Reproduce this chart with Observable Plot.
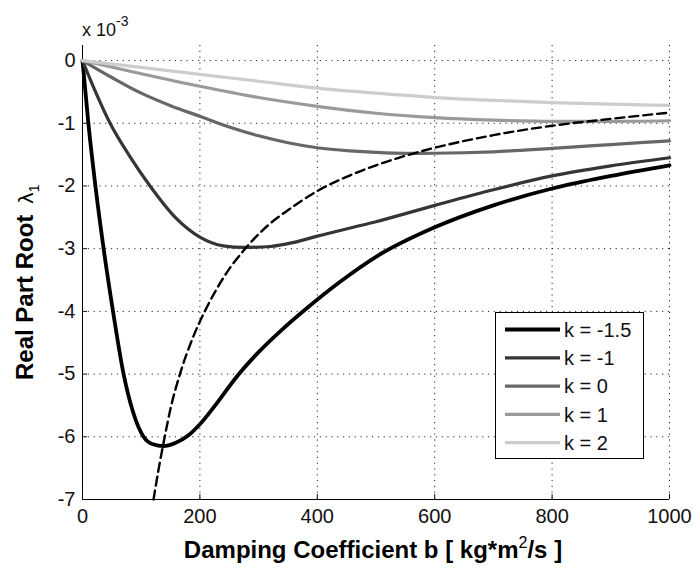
<!DOCTYPE html>
<html><head><meta charset="utf-8">
<script src="https://cdn.jsdelivr.net/npm/d3@7"></script>
<script src="https://cdn.jsdelivr.net/npm/@observablehq/plot@0.6"></script>
<style>body{margin:0;background:#fff} #chart{width:694px;height:570px}</style>
</head><body><div id="chart"></div>
<script>
// ---- data (values ×10^-3) ----
const kLabels = ["k = -1.5", "k = -1", "k = 0", "k = 1", "k = 2"];
const bKm15 = [0, 10, 22, 36, 52, 70, 86, 104, 120, 138, 158, 180, 200, 230, 262, 300, 340, 377, 440, 500, 600, 700, 800, 900, 1000];
const lamKm15 = [0, -1, -2, -3, -4, -5, -5.6, -6.0, -6.12, -6.15, -6.1, -5.98, -5.8, -5.45, -5.05, -4.65, -4.29, -3.99, -3.52, -3.13, -2.66, -2.31, -2.04, -1.84, -1.67];
const bKm1 = [0, 20, 47, 80, 115, 158, 200, 240, 275, 320, 360, 400, 456, 500, 600, 700, 800, 900, 1000];
const lamKm1 = [0, -0.45, -1, -1.52, -2, -2.5, -2.815, -2.955, -2.98, -2.965, -2.9, -2.8, -2.67, -2.57, -2.31, -2.06, -1.84, -1.68, -1.55];
const bK0 = [0, 50, 100, 150, 200, 250, 300, 350, 400, 456, 500, 550, 600, 650, 700, 800, 900, 1000];
const lamK0 = [0, -0.27, -0.52, -0.72, -0.89, -1.06, -1.2, -1.31, -1.39, -1.44, -1.465, -1.48, -1.478, -1.47, -1.455, -1.4, -1.34, -1.28];
const bK1 = [0, 100, 200, 300, 400, 500, 600, 700, 800, 900, 1000];
const lamK1 = [0, -0.21, -0.41, -0.59, -0.73, -0.84, -0.91, -0.95, -0.97, -0.97, -0.96];
const bK2 = [0, 100, 200, 300, 400, 500, 600, 700, 800, 900, 1000];
const lamK2 = [0, -0.11, -0.22, -0.33, -0.44, -0.52, -0.59, -0.635, -0.67, -0.695, -0.715];
const bLocus = [121, 130, 138, 150, 166, 188, 211, 241, 280, 317, 351, 400, 456, 500, 576, 700, 800, 900, 1000];
const lamLocus = [-7.0, -6.5, -6.1, -5.55, -5.0, -4.42, -3.95, -3.45, -2.97, -2.62, -2.38, -2.08, -1.83, -1.67, -1.45, -1.19, -1.04, -0.93, -0.83];
const xTicks = [0, 200, 400, 600, 800, 1000];
const yTicks = [0, -1, -2, -3, -4, -5, -6, -7];

const seriesB = [bKm15, bKm1, bK0, bK1, bK2];
const seriesL = [lamKm15, lamKm1, lamK0, lamK1, lamK2];
const rows = kLabels.map((k, i) => seriesB[i].map((b, j) => ({k, b, v: seriesL[i][j]})));
const locus = bLocus.map((b, j) => ({b, v: lamLocus[j]}));

const grays = ["#000000", "#353535", "#676767", "#9a9a9a", "#cdcdcd"];
const widths = [3.8, 3.2, 3.2, 3.2, 3.2];
const font = "'Liberation Sans', Arial, Helvetica, sans-serif";
const gridStyle = {stroke: "#000", strokeOpacity: 0.85, strokeDasharray: "1.2,4.6", strokeWidth: 1};

const plot = Plot.plot({
  width: 694, height: 570,
  marginLeft: 82, marginRight: 25, marginTop: 45, marginBottom: 71,
  style: {fontFamily: font, fontSize: "20px", color: "#111", background: "#fff", overflow: "visible"},
  x: {domain: [0, 1000], label: null},
  y: {domain: [-7, 0.24], label: null},
  color: {domain: kLabels, range: grays},
  marks: [
    Plot.gridX(xTicks, gridStyle),
    Plot.gridY(yTicks, gridStyle),
    Plot.ruleX([0], {stroke: "#000"}),
    Plot.ruleY([-7], {stroke: "#000"}),
    Plot.axisX(xTicks, {tickSize: 5, dy: -5, tickFormat: () => "", label: null}),
    Plot.axisY(yTicks, {tickSize: 5, dx: 5, tickFormat: () => "", label: null}),
    Plot.axisX(xTicks, {tickSize: 0, tickPadding: 9, tickFormat: d => String(d), label: null, fontSize: 20}),
    Plot.axisY(yTicks, {tickSize: 0, tickPadding: 7, tickFormat: d => String(d), label: null, fontSize: 20}),
    ...rows.map((r, i) => Plot.line(r, {x: "b", y: "v", stroke: "k", strokeWidth: widths[i], curve: "monotone-x"})),
    Plot.line(locus, {x: "b", y: "v", stroke: "#000", strokeWidth: 2.4, strokeDasharray: "9,5", curve: "monotone-x"})
  ]
});

const svg = d3.select(plot);
const color = plot.scale("color");
// exponent label
const ex = svg.append("text").attr("x", 82).attr("y", 36).attr("text-anchor", "start").attr("font-family", font).attr("font-size", 18).attr("fill", "#111");
ex.append("tspan").text("x 10");
ex.append("tspan").attr("dy", -10).attr("font-size", 14).text("-3");
// x label
const xl = svg.append("text").attr("x", 373).attr("y", 558).attr("text-anchor", "middle")
  .attr("font-family", font).attr("font-size", 24).attr("font-weight", "bold").attr("fill", "#000");
xl.append("tspan").text("Damping Coefficient b [ kg*m");
xl.append("tspan").attr("dy", -10).attr("font-size", 16).attr("font-weight", "normal").text("2");
xl.append("tspan").attr("dy", 10).text("/s ]");
// y label
const yl = svg.append("text").attr("transform", "translate(33,380) rotate(-90)").attr("text-anchor", "start")
  .attr("font-family", font).attr("font-size", 24).attr("font-weight", "bold").attr("fill", "#000");
yl.append("tspan").text("Real Part Root ");
yl.append("tspan").attr("font-weight", "normal").attr("font-family", "'DejaVu Sans', sans-serif").attr("font-size", 20).attr("dx", 4).text("λ");
yl.append("tspan").attr("font-weight", "normal").attr("font-size", 14).attr("dy", 6).text("1");
// legend
const lg = svg.append("g");
lg.append("rect").attr("x", 495.5).attr("y", 312.5).attr("width", 148).attr("height", 146)
  .attr("fill", "#fff").attr("stroke", "#000").attr("stroke-width", 1);
kLabels.forEach((k, i) => {
  const y = 329.5 + i * 28.3;
  lg.append("line").attr("x1", 505).attr("x2", 560).attr("y1", y).attr("y2", y)
    .attr("stroke", color.apply(k)).attr("stroke-width", widths[i]);
  lg.append("text").attr("x", 564).attr("y", y).attr("dy", "0.36em").attr("text-anchor", "start")
    .attr("font-family", font).attr("font-size", 20).attr("fill", "#111").text(k);
});
document.getElementById("chart").appendChild(plot);
</script>
</body></html>
